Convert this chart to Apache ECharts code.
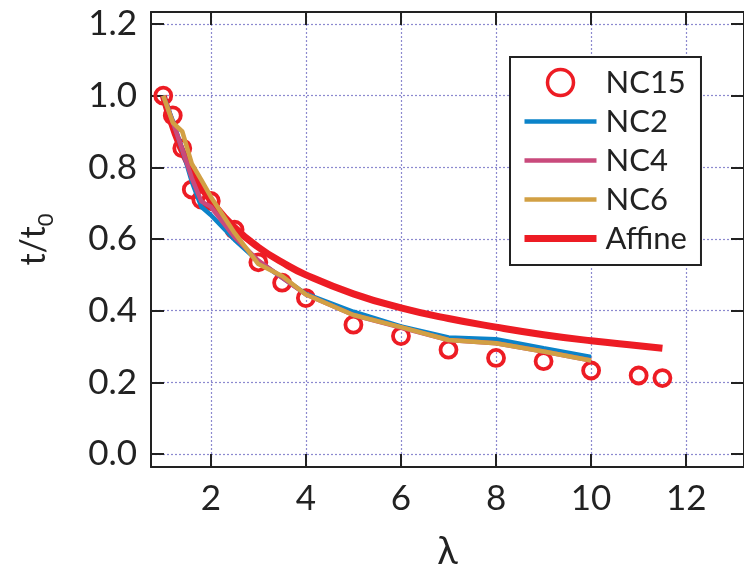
<!DOCTYPE html>
<html>
<head>
<meta charset="utf-8">
<script src="https://cdn.jsdelivr.net/npm/echarts@6/dist/echarts.min.js"></script>
<style>
html,body{margin:0;padding:0;background:#fff;}
#chart{width:744px;height:578px;}
</style>
</head>
<body>
<div id="chart"></div>
<script>
// ---- data ----
const lambdaNC15 = [1.0, 1.2, 1.4, 1.6, 1.8, 2.0, 2.5, 3.0, 3.5, 4.0, 5, 6, 7, 8, 9, 10, 11, 11.5];
const nc15 = [1.0, 0.945, 0.853, 0.738, 0.71, 0.706, 0.626, 0.535, 0.478, 0.435, 0.361, 0.329, 0.291, 0.268, 0.259, 0.233, 0.219, 0.212];

const lambdaNC = [1.0, 1.2, 1.4, 1.6, 1.8, 2.0, 2.5, 3.0, 3.5, 4.0, 5, 6, 7, 8, 9, 10];
const nc2 = [1.0, 0.93, 0.85, 0.76, 0.69, 0.667, 0.598, 0.538, 0.492, 0.447, 0.397, 0.356, 0.325, 0.32, 0.295, 0.271];
const nc4 = [1.0, 0.927, 0.85, 0.77, 0.705, 0.69, 0.605, 0.54, 0.492, 0.445, 0.388, 0.353, 0.318, 0.309, 0.286, 0.261];
const nc6 = [1.0, 0.925, 0.9, 0.81, 0.765, 0.718, 0.617, 0.53, 0.497, 0.445, 0.388, 0.354, 0.318, 0.309, 0.286, 0.261];

const lambdaAffine = [1.0, 1.25, 1.5, 1.75, 2.0, 2.5, 3.0, 3.5, 4.0, 5, 6, 7, 8, 9, 10, 11, 11.5];
const affine = [1.0, 0.894, 0.816, 0.756, 0.707, 0.632, 0.577, 0.535, 0.5, 0.447, 0.408, 0.378, 0.354, 0.333, 0.316, 0.302, 0.295];

const xTicks = [2, 4, 6, 8, 10, 12];
const yTicks = [0.0, 0.2, 0.4, 0.6, 0.8, 1.0, 1.2];
const yTickLabels = ['0.0', '0.2', '0.4', '0.6', '0.8', '1.0', '1.2'];

const seriesNames = ['NC15', 'NC2', 'NC4', 'NC6', 'Affine'];

// ---- styling ----
const FONT = 'Lato, "Open Sans", sans-serif';
const RED = '#ed1c24', BLUE = '#0b83c9', PINK = '#c94a7c', GOLD = '#d2a044';
const AXIS = '#222';
const GRIDC = '#8c89cf';

function pairs(xs, ys) { return xs.map((x, i) => [x, ys[i]]); }

const chart = echarts.init(document.getElementById('chart'), null, {renderer: 'canvas'});

const xBase = {
  type: 'value', min: 0.742, max: 13.216,
  axisLine: {show: true, onZero: false, lineStyle: {color: AXIS, width: 2}},
  axisTick: {show: true, inside: true, length: 13, lineStyle: {color: AXIS, width: 2}, customValues: xTicks}
};
const yBase = {
  type: 'value', min: -0.0363, max: 1.2335,
  axisLine: {show: true, onZero: false, lineStyle: {color: AXIS, width: 2}},
  axisTick: {show: true, inside: true, length: 13, lineStyle: {color: AXIS, width: 2}, customValues: yTicks}
};

const option = {
  backgroundColor: '#fff',
  animation: false,
  grid: {left: 151, top: 12, width: 595, height: 455, containLabel: false},
  xAxis: [
    Object.assign({}, xBase, {
      position: 'bottom',
      name: 'λ', nameLocation: 'middle', nameGap: 66,
      nameTextStyle: {fontFamily: FONT, fontSize: 38, color: AXIS},
      axisLabel: {show: true, margin: 14, fontFamily: FONT, fontSize: 35, color: AXIS,
        customValues: xTicks, formatter: v => String(v)},
      splitLine: {show: true, lineStyle: {color: GRIDC, width: 1.2, type: [2, 2]}}
    }),
    Object.assign({}, xBase, {
      position: 'top',
      axisLabel: {show: false},
      splitLine: {show: false}
    })
  ],
  yAxis: [
    Object.assign({}, yBase, {
      position: 'left',
      name: '{m|t/t}{s|0}', nameLocation: 'middle', nameGap: 94, nameRotate: 90,
      nameTextStyle: {fontFamily: FONT, color: AXIS,
        rich: {
          m: {fontFamily: FONT, fontSize: 34, lineHeight: 40, verticalAlign: 'top', color: AXIS},
          s: {fontFamily: FONT, fontSize: 22, lineHeight: 40, verticalAlign: 'bottom', color: AXIS}
        }},
      axisLabel: {show: true, margin: 14, fontFamily: FONT, fontSize: 35, color: AXIS,
        customValues: yTicks, formatter: v => yTickLabels[yTicks.findIndex(t => Math.abs(t - v) < 1e-6)] ?? v.toFixed(1)},
      splitLine: {show: true, lineStyle: {color: GRIDC, width: 1.2, type: [2, 2]}}
    }),
    Object.assign({}, yBase, {
      position: 'right',
      axisLabel: {show: false},
      splitLine: {show: false}
    })
  ],
  legend: {
    orient: 'vertical',
    left: 510, top: 57,
    padding: [10, 14, 11, 11],
    itemWidth: 72, itemHeight: 26, itemGap: 8,
    borderColor: AXIS, borderWidth: 2, backgroundColor: '#fff',
    textStyle: {fontFamily: FONT, fontSize: 31, lineHeight: 26, color: AXIS, padding: [0, 0, 0, 4]},
    data: [
      {name: seriesNames[0], icon: 'circle', itemStyle: {color: 'rgba(0,0,0,0)', borderColor: RED, borderWidth: 3.5, opacity: 1}},
      {name: seriesNames[1], itemStyle: {opacity: 0}, lineStyle: {width: 4.5, color: BLUE}},
      {name: seriesNames[2], itemStyle: {opacity: 0}, lineStyle: {width: 4.5, color: PINK}},
      {name: seriesNames[3], itemStyle: {opacity: 0}, lineStyle: {width: 4.5, color: GOLD}},
      {name: seriesNames[4], itemStyle: {opacity: 0}, lineStyle: {width: 7, color: RED}}
    ],
    selectedMode: false
  },
  series: [
    {
      name: seriesNames[4], type: 'line', data: pairs(lambdaAffine, affine),
      smooth: true, symbol: 'none', z: 1,
      lineStyle: {color: RED, width: 7}, itemStyle: {color: RED}
    },
    {
      name: seriesNames[0], type: 'scatter', data: pairs(lambdaNC15, nc15),
      symbol: 'circle', symbolSize: 16, z: 2,
      itemStyle: {color: 'rgba(0,0,0,0)', borderColor: RED, borderWidth: 3.8, opacity: 1}
    },
    {
      name: seriesNames[1], type: 'line', data: pairs(lambdaNC, nc2),
      symbol: 'none', z: 3,
      lineStyle: {color: BLUE, width: 4.5}, itemStyle: {color: BLUE}
    },
    {
      name: seriesNames[2], type: 'line', data: pairs(lambdaNC, nc4),
      symbol: 'none', z: 4,
      lineStyle: {color: PINK, width: 4.5}, itemStyle: {color: PINK}
    },
    {
      name: seriesNames[3], type: 'line', data: pairs(lambdaNC, nc6),
      symbol: 'none', z: 5,
      lineStyle: {color: GOLD, width: 4.5}, itemStyle: {color: GOLD}
    }
  ]
};
chart.setOption(option);
</script>
</body>
</html>
